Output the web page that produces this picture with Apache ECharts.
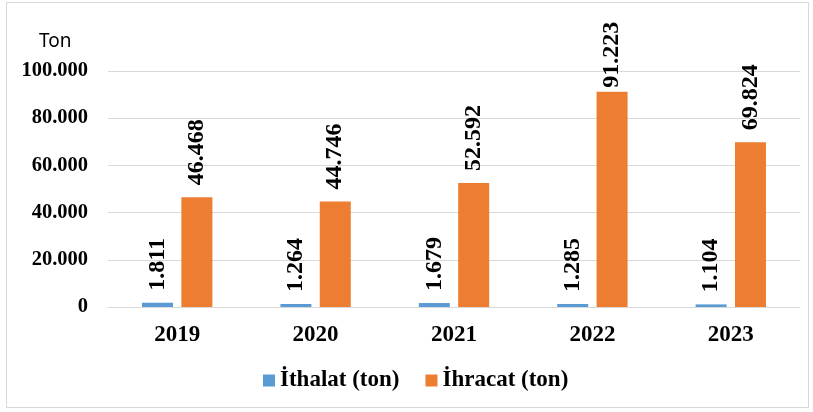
<!DOCTYPE html>
<html><head><meta charset="utf-8">
<script src="https://cdn.jsdelivr.net/npm/echarts@6/dist/echarts.min.js"></script>
<style>html,body{margin:0;padding:0;background:#fff;}#frame{position:absolute;left:6px;top:2px;width:803px;height:406px;border:1px solid #d9d9d9;box-sizing:border-box;}#c{position:absolute;left:0;top:0;width:813px;height:412px;}</style>
</head><body><div id="frame"></div><div id="c"></div>
<script>
const categories = ['2019','2020','2021','2022','2023'];
const ithalat = [1811, 1264, 1679, 1285, 1104];
const ihracat = [46468, 44746, 52592, 91223, 69824];
const yTicks = [0, 20000, 40000, 60000, 80000, 100000];
const fmt = v => v === 0 ? '0' : String(v).replace(/\B(?=(\d{3})+(?!\d))/g, '.');
const serif = '"Liberation Serif","Times New Roman",serif';
const chart = echarts.init(document.getElementById('c'), null, {renderer:'canvas'});
const lbl = {show:true, position:'top', rotate:90, align:'left', verticalAlign:'middle', distance:12,
  fontFamily:serif, fontWeight:'bold', fontSize:24, color:'#000', formatter:p=>fmt(p.value)};
// labels near the top of the chart area get pushed down (clamped), as in the reference
const withClamp = arr => arr.map(v => v > 88000 ? {value:v, label:{distance:4}} : v);
chart.setOption({
  animation:false,
  grid:{left:108, right:13, top:71, bottom:105},
  graphic:[{type:'text', left:39, top:32, style:{text:'Ton', font:'19px "Noto Sans"', fill:'#000'}}],
  legend:{bottom:15, left:258, itemWidth:12, itemHeight:12, itemGap:26, icon:'rect',
    textStyle:{fontFamily:serif, fontWeight:'bold', fontSize:23, color:'#000'},
    data:['İthalat (ton)','İhracat (ton)']},
  xAxis:{type:'category', data:categories, axisTick:{show:false}, axisLine:{show:true, lineStyle:{color:'#d9d9d9'}},
    axisLabel:{fontFamily:serif, fontWeight:'bold', fontSize:23, color:'#000', margin:17}},
  yAxis:{type:'value', min:yTicks[0], max:yTicks[yTicks.length-1], interval:yTicks[1]-yTicks[0],
    axisLine:{show:false}, axisTick:{show:false},
    splitLine:{lineStyle:{color:'#d9d9d9', width:1}},
    axisLabel:{fontFamily:serif, fontWeight:'bold', fontSize:20.5, color:'#000', margin:20, formatter:v=>fmt(v)}},
  series:[
    {name:'İthalat (ton)', type:'bar', data:withClamp(ithalat), barWidth:31, barGap:'27%', itemStyle:{color:'#5B9BD5'}, label:lbl},
    {name:'İhracat (ton)', type:'bar', data:withClamp(ihracat), barWidth:31, itemStyle:{color:'#ED7D31'}, label:lbl}
  ]
});
</script></body></html>
